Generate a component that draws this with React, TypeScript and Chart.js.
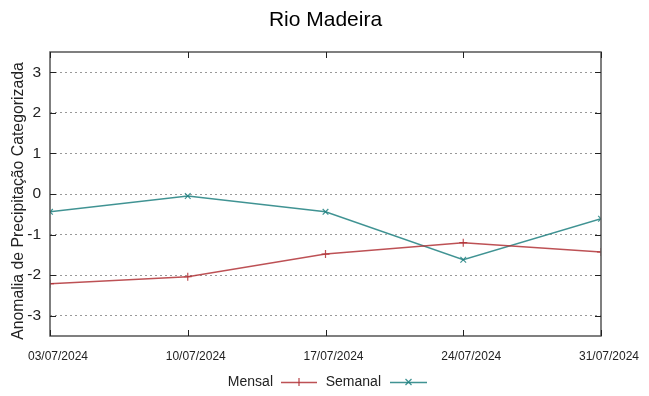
import React, { useEffect, useRef } from "react";
import { Chart, registerables } from "chart.js";

Chart.register(...registerables);

const chartTitle = "Rio Madeira";
const yAxisTitle = "Anomalia de Precipitação Categorizada";
const dayOffsets = [0, 7, 14, 21, 28];
const dateLabels = ["03/07/2024", "10/07/2024", "17/07/2024", "24/07/2024", "31/07/2024"];
const mensalValues = [-2.21, -2.04, -1.48, -1.2, -1.43];
const semanalValues = [-0.44, -0.05, -0.44, -1.62, -0.61];
const yTickValues = [-3, -2, -1, 0, 1, 2, 3];

const MENSAL_COLOR = "rgba(178,50,55,0.85)";
const SEMANAL_COLOR = "rgba(30,128,128,0.85)";
const FONT = "'Liberation Sans', Arial, sans-serif";

const framePlugin = {
  id: "frameAndLegend",
  afterDatasetsDraw(chart: any) {
    const { ctx, chartArea } = chart;
    const { left, right, top, bottom } = chartArea;
    const xs = chart.scales.x;
    const ys = chart.scales.y;
    ctx.save();
    ctx.strokeStyle = "#555";
    ctx.lineWidth = 1.5;
    ctx.strokeRect(left, top, right - left, bottom - top);
    ctx.lineWidth = 1;
    ctx.strokeStyle = "#222";
    const tl = 6;
    yTickValues.forEach((v) => {
      const y = Math.round(ys.getPixelForValue(v)) + 0.5;
      ctx.beginPath();
      ctx.moveTo(left, y);
      ctx.lineTo(left + tl, y);
      ctx.moveTo(right, y);
      ctx.lineTo(right - tl, y);
      ctx.stroke();
    });
    dayOffsets.forEach((v) => {
      const x = Math.round(xs.getPixelForValue(v)) + 0.5;
      ctx.beginPath();
      ctx.moveTo(x, bottom);
      ctx.lineTo(x, bottom - tl);
      ctx.moveTo(x, top);
      ctx.lineTo(x, top + tl);
      ctx.stroke();
    });
    ctx.restore();
  },
  afterDraw(chart: any) {
    const { ctx } = chart;
    const xs = chart.scales.x;
    ctx.save();
    // title
    ctx.fillStyle = "#000";
    ctx.font = `21px ${FONT}`;
    ctx.textAlign = "center";
    ctx.textBaseline = "middle";
    ctx.fillText(chartTitle, 325.5, 20);
    // x tick labels
    ctx.fillStyle = "#222";
    ctx.font = `12px ${FONT}`;
    dayOffsets.forEach((v, i) => {
      ctx.fillText(dateLabels[i], xs.getPixelForValue(v) + 8, 356.5);
    });
    // y title
    ctx.save();
    ctx.translate(19, 201);
    ctx.rotate(-Math.PI / 2);
    ctx.font = `15.8px ${FONT}`;
    ctx.fillText(yAxisTitle, 0, 0);
    ctx.restore();
    // legend
    ctx.font = `14px ${FONT}`;
    ctx.textAlign = "right";
    const ly = 382;
    const items = [
      { label: "Mensal", color: MENSAL_COLOR, textRight: 273, x0: 281, x1: 317, style: "plus" },
      { label: "Semanal", color: SEMANAL_COLOR, textRight: 381, x0: 390, x1: 427, style: "x" },
    ];
    items.forEach((it) => {
      ctx.fillStyle = "#222";
      ctx.fillText(it.label, it.textRight, ly);
      ctx.strokeStyle = it.color;
      ctx.lineWidth = 1.3;
      ctx.beginPath();
      ctx.moveTo(it.x0, ly + 0.5);
      ctx.lineTo(it.x1, ly + 0.5);
      ctx.stroke();
      const cx = (it.x0 + it.x1) / 2;
      ctx.beginPath();
      if (it.style === "plus") {
        ctx.moveTo(cx, ly - 4);
        ctx.lineTo(cx, ly + 4);
      } else {
        ctx.moveTo(cx - 3, ly - 3);
        ctx.lineTo(cx + 3, ly + 3);
        ctx.moveTo(cx - 3, ly + 3);
        ctx.lineTo(cx + 3, ly - 3);
      }
      ctx.stroke();
    });
    ctx.restore();
  },
};

export default function App() {
  const ref = useRef<HTMLCanvasElement | null>(null);
  useEffect(() => {
    document.body.style.margin = "0";
    const canvas = ref.current;
    if (!canvas) return;
    const toPts = (vals: number[]) => vals.map((v, i) => ({ x: dayOffsets[i], y: v }));
    const chart = new Chart(canvas, {
      type: "line",
      data: {
        datasets: [
          {
            label: "Mensal",
            data: toPts(mensalValues),
            borderColor: MENSAL_COLOR,
            backgroundColor: MENSAL_COLOR,
            borderWidth: 1.5,
            pointStyle: "cross",
            pointRadius: 4,
            pointBorderWidth: 1.2,
            tension: 0,
            fill: false,
          },
          {
            label: "Semanal",
            data: toPts(semanalValues),
            borderColor: SEMANAL_COLOR,
            backgroundColor: SEMANAL_COLOR,
            borderWidth: 1.5,
            pointStyle: "crossRot",
            pointRadius: 4,
            pointBorderWidth: 1.2,
            tension: 0,
            fill: false,
          },
        ],
      },
      options: {
        responsive: false,
        animation: false,
        layout: { padding: { top: 52, left: 0, right: 48, bottom: 0 } },
        plugins: {
          legend: { display: false },
          title: { display: false },
          tooltip: { enabled: false },
        },
        scales: {
          x: {
            type: "linear",
            min: 0,
            max: 28,
            afterBuildTicks: (s: any) => {
              s.ticks = dayOffsets.map((v) => ({ value: v }));
            },
            afterFit: (s: any) => {
              s.height = 60;
            },
            grid: { display: false, drawTicks: false },
            border: { display: false },
            ticks: { display: false },
          },
          y: {
            min: -3.5,
            max: 3.5,
            afterBuildTicks: (s: any) => {
              s.ticks = yTickValues.map((v) => ({ value: v }));
            },
            afterFit: (s: any) => {
              s.width = 50;
            },
            grid: {
              color: "#999",
              lineWidth: 1,
              drawTicks: false,
            },
            border: { display: false, dash: [2, 3] },
            ticks: {
              padding: 9,
              color: "#222",
              font: { family: FONT, size: 15.5 },
              callback: (v: any) => String(v),
            },
          },
        },
      },
      plugins: [framePlugin],
    } as any);
    return () => chart.destroy();
  }, []);
  return <canvas ref={ref} width={649} height={396} style={{ display: "block" }} />;
}
